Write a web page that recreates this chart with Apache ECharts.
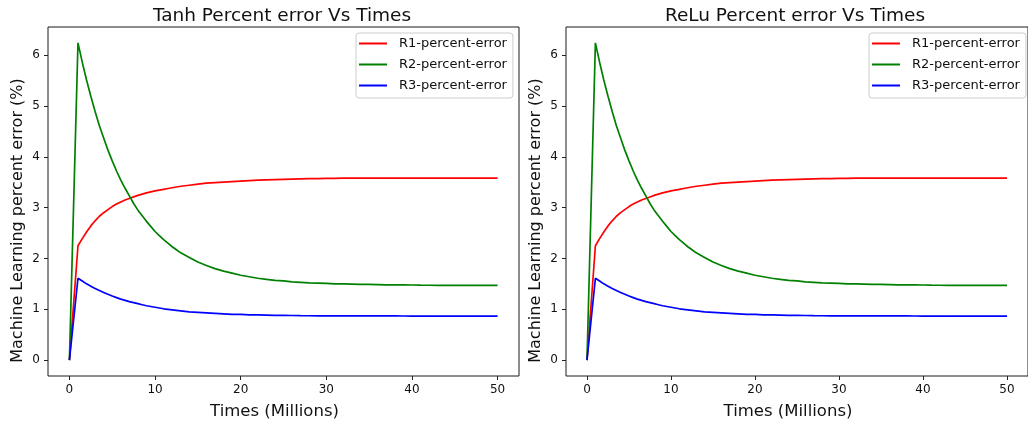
<!DOCTYPE html>
<html>
<head>
<meta charset="utf-8">
<script src="https://cdn.jsdelivr.net/npm/echarts@6/dist/echarts.min.js"></script>
<style>
html,body{margin:0;padding:0;background:#fff;}
#chart{width:1028px;height:425px;}
</style>
</head>
<body>
<div id="chart"></div>
<script>
// Times (millions)
const times = [0,1,1.5,2,2.5,3,3.5,4,4.5,5,5.5,6,6.5,7,7.5,8,8.5,9,9.5,10,10.5,11,11.5,12,12.5,13,14,15,16,17,18,19,20,21,22,23,24,25,26,27,28,29,30,31,32,33,34,35,36,37,38,39,40,41,42,43,44,45,46,47,48,49,50];
// Percent errors (both panels look identical)
const r1Error = [0,2.25,2.39,2.52,2.64,2.74,2.83,2.90,2.96,3.02,3.07,3.11,3.15,3.18,3.21,3.24,3.265,3.29,3.31,3.33,3.345,3.36,3.375,3.39,3.405,3.42,3.44,3.46,3.48,3.49,3.50,3.51,3.52,3.53,3.54,3.545,3.55,3.555,3.56,3.565,3.57,3.57,3.575,3.575,3.578,3.58,3.58,3.58,3.58,3.58,3.58,3.58,3.58,3.58,3.58,3.58,3.58,3.58,3.58,3.58,3.58,3.58,3.58];
const r2Error = [0,6.24,5.86,5.51,5.19,4.89,4.61,4.37,4.13,3.92,3.72,3.54,3.38,3.23,3.08,2.95,2.84,2.73,2.63,2.53,2.45,2.37,2.30,2.23,2.17,2.11,2.02,1.93,1.86,1.80,1.75,1.71,1.67,1.64,1.61,1.59,1.57,1.56,1.54,1.53,1.52,1.515,1.51,1.50,1.50,1.495,1.49,1.49,1.485,1.48,1.48,1.48,1.478,1.475,1.473,1.47,1.47,1.47,1.47,1.47,1.47,1.47,1.47];
const r3Error = [0,1.61,1.555,1.50,1.455,1.41,1.37,1.33,1.295,1.26,1.23,1.20,1.175,1.15,1.13,1.11,1.09,1.07,1.055,1.04,1.025,1.01,1.00,0.99,0.98,0.97,0.95,0.94,0.93,0.92,0.91,0.90,0.90,0.89,0.89,0.885,0.88,0.88,0.878,0.875,0.873,0.872,0.87,0.87,0.87,0.87,0.87,0.87,0.87,0.87,0.87,0.868,0.867,0.867,0.867,0.866,0.866,0.865,0.865,0.865,0.865,0.865,0.865];
const seriesNames = ['R1-percent-error','R2-percent-error','R3-percent-error'];
const seriesColors = ['#ff0000','#008000','#0000ff'];
const panelTitles = ['Tanh Percent error Vs Times','ReLu Percent error Vs Times'];
const xTicks = [0,10,20,30,40,50];
const yTicks = [0,1,2,3,4,5,6];
const xLabel = 'Times (Millions)';
const yLabel = 'Machine Learning percent error (%)';

const FONT = 'DejaVu Sans';
const chart = echarts.init(document.getElementById('chart'));

const grids = [
  {left:48, top:27, width:471, height:351},
  {left:566, top:27, width:466, height:351}
];
const titleCenters = [277, 790];
const legendLefts = [356, 869];
const values = [r1Error, r2Error, r3Error];

const option = {
  animation:false,
  backgroundColor:'#fff',
  title: panelTitles.map((t,i)=>({
    text:t, left:titleCenters[i], top:2, textAlign:'center',
    textStyle:{fontFamily:FONT, fontSize:18.5, fontWeight:'normal', color:'#111'}
  })),
  grid: grids.map(g=>Object.assign({show:true, borderColor:'#1a1a1a', borderWidth:1, backgroundColor:'transparent', containLabel:false}, g)),
  legend: legendLefts.map((l,i)=>({
    data:seriesNames, orient:'vertical', left:l, top:33,
    icon:'rect', itemWidth:28, itemHeight:2, itemGap:8,
    padding:[4,6,6,3],
    borderColor:'#cccccc', borderWidth:1, borderRadius:3,
    backgroundColor:'rgba(255,255,255,0.85)',
    textStyle:{fontFamily:FONT, fontSize:13, color:'#111', padding:[0,0,0,7]}
  })),
  xAxis: grids.map((g,i)=>({
    type:'value', gridIndex:i, min:-2.5, max:52.5,
    name:xLabel, nameLocation:'middle', nameGap:27,
    nameTextStyle:{fontFamily:FONT, fontSize:16.5, color:'#111', padding:[0,18,0,0]},
    axisLine:{show:false, onZero:false},
    splitLine:{show:false},
    axisTick:{show:true, inside:false, length:4, customValues:xTicks, lineStyle:{color:'#222'}},
    axisLabel:{customValues:xTicks, fontFamily:FONT, fontSize:12, color:'#111', margin:8}
  })),
  yAxis: grids.map((g,i)=>({
    type:'value', gridIndex:i, min:-0.312, max:6.552,
    name:yLabel, nameLocation:'middle', nameGap:22,
    nameTextStyle:{fontFamily:FONT, fontSize:16, color:'#111', padding:[0,38,0,0]},
    axisLine:{show:false, onZero:false},
    splitLine:{show:false},
    axisTick:{show:true, inside:false, length:4, customValues:yTicks, lineStyle:{color:'#222'}},
    axisLabel:{customValues:yTicks, fontFamily:FONT, fontSize:12, color:'#111', margin:8}
  })),
  series: []
};
grids.forEach((g,gi)=>{
  seriesNames.forEach((n,si)=>{
    option.series.push({
      type:'line', name:n, xAxisIndex:gi, yAxisIndex:gi,
      data: times.map((t,k)=>[t, values[si][k]]),
      symbol:'none', smooth:false,
      lineStyle:{color:seriesColors[si], width:1.7},
      itemStyle:{color:seriesColors[si]}
    });
  });
});
chart.setOption(option);
</script>
</body>
</html>
